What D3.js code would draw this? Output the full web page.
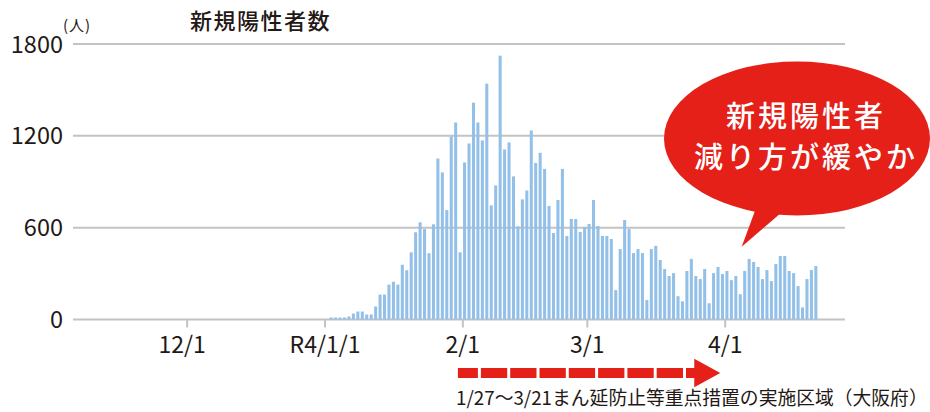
<!DOCTYPE html>
<html>
<head>
<meta charset="utf-8">
<script src="https://cdn.jsdelivr.net/npm/d3@7"></script>
<style>
  body { margin: 0; background: #fff; }
  svg { display: block; }
  text { font-family: "Noto Sans CJK JP", "Noto Sans", sans-serif; fill: #231815; }
</style>
</head>
<body>
<script>
// daily new positives, from 2022-01-02 on
const startDate = new Date(2022, 0, 2);
const cases = [
  13, 13, 13, 13, 20, 39, 52, 52, 33, 33, 85, 163, 163, 228, 247, 228, 358,
  322, 439, 570, 635, 591, 433, 622, 1052, 961, 715, 1196, 1287, 439, 1026, 1150, 1417, 1287,
  1170, 1541, 746, 876, 1724, 1111, 1157, 935, 609, 785, 843, 1235,
  1023, 1089, 984, 742, 565, 781, 984, 546, 657, 657, 572, 604, 624, 781, 611, 546, 546,
  526, 192, 460, 650, 591, 434, 460, 434, 127, 460,
  481, 389, 330, 284, 303, 152, 119, 317, 396, 284, 264, 330, 106, 303, 343, 297, 317, 257,
  284, 165, 317, 396, 376, 343, 264, 323, 251, 363, 415, 415, 317, 303, 218, 79, 264, 323, 349
];
const yTicks = [0, 600, 1200, 1800];
const monthTicks = [new Date(2021, 11, 1), new Date(2022, 0, 1), new Date(2022, 1, 1), new Date(2022, 2, 1), new Date(2022, 3, 1)];
const monthLabels = ["12/1", "R4/1/1", "2/1", "3/1", "4/1"];
const title = "新規陽性者数";
const unitLabel = "(人)";
const bubbleLines = ["新規陽性者", "減り方が緩やか"];
const caption = "1/27～3/21まん延防止等重点措置の実施区域（大阪府）";
const arrowDates = [new Date(2022, 0, 31), new Date(2022, 2, 31)];

const data = cases.map((v, i) => ({ date: d3.timeDay.offset(startDate, i), value: v }));

const W = 930, H = 412;
const plotLeft = 73, plotRight = 845;

const svg = d3.select("body").append("svg")
  .attr("width", W)
  .attr("height", H);

const x = d3.scaleTime()
  .domain([new Date(2022, 0, 1), new Date(2022, 3, 1)])
  .range([324.5, 724.7]);

const y = d3.scaleLinear()
  .domain([0, 1800])
  .range([319.5, 44]);

// grid lines
svg.append("g")
  .selectAll("line")
  .data(yTicks).enter().append("line")
    .attr("x1", plotLeft)
    .attr("x2", plotRight)
    .attr("y1", d => y(d))
    .attr("y2", d => y(d))
    .attr("stroke", "#c3c3c3")
    .attr("stroke-width", 2);

// y labels
svg.append("g")
  .selectAll("text")
  .data(yTicks).enter().append("text")
    .attr("x", 63)
    .attr("y", d => y(d) + 8.5)
    .attr("text-anchor", "end")
    .attr("font-size", 23.5)
    .text(d => d);

svg.append("text")
  .attr("x", 63)
  .attr("y", 31)
  .attr("font-size", 15)
  .attr("letter-spacing", 1)
  .text(unitLabel);

svg.append("text")
  .attr("x", 190)
  .attr("y", 29)
  .attr("font-size", 22)
  .attr("font-weight", 500)
  .attr("letter-spacing", 1.5)
  .text(title);

// x axis ticks
const xAxis = d3.axisBottom(x)
  .tickValues(monthTicks)
  .tickSize(8)
  .tickFormat((d, i) => monthLabels[i]);

const gx = svg.append("g")
  .attr("transform", "translate(0," + y(0) + ")")
  .call(xAxis);
gx.select(".domain").remove();
gx.selectAll(".tick line").attr("stroke", "#c3c3c3").attr("stroke-width", 2);
gx.selectAll(".tick text")
  .attr("font-size", 23)
  .attr("font-family", null)
  .attr("fill", "#231815")
  .attr("dy", null)
  .attr("y", 33)
  .attr("dx", (d, i) => i === 0 ? -5 : 0);

// bars
svg.append("g")
  .selectAll("rect")
  .data(data).enter().append("rect")
    .attr("x", d => x(d.date) + 0.7)
    .attr("width", d => x(d3.timeDay.offset(d.date, 1)) - x(d.date) - 1.4)
    .attr("y", d => y(d.value))
    .attr("height", d => y(0) - y(d.value))
    .attr("fill", "#93c0e8");

// speech bubble
const bubble = svg.append("g");
bubble.append("ellipse")
  .attr("cx", 797)
  .attr("cy", 138.5)
  .attr("rx", 133)
  .attr("ry", 77)
  .attr("fill", "#e42019");
bubble.append("polygon")
  .attr("points", "759,200 796,200 741.7,246.7")
  .attr("fill", "#e42019");
bubble.selectAll("text")
  .data(bubbleLines).enter().append("text")
    .attr("x", 806)
    .attr("y", (d, i) => 126.5 + i * 41.5)
    .attr("text-anchor", "middle")
    .attr("font-size", 29)
    .attr("font-weight", 500)
    .attr("letter-spacing", 3)
    .style("fill", "#fff")
    .text(d => d);

// dashed arrow for the priority measures period
const ay = 373;
const tipX = x(arrowDates[1]);
const headLen = 26;
svg.append("line")
  .attr("x1", x(arrowDates[0]))
  .attr("x2", tipX - headLen + 2)
  .attr("y1", ay)
  .attr("y2", ay)
  .attr("stroke", "#e42019")
  .attr("stroke-width", 10)
  .attr("stroke-dasharray", "26.3,3")
  .attr("stroke-dashoffset", 6.3);
svg.append("polygon")
  .attr("points", [[tipX - headLen, ay - 14.2], [tipX, ay], [tipX - headLen, ay + 14.2]].join(" "))
  .attr("fill", "#e42019");

svg.append("text")
  .attr("x", 456)
  .attr("y", 404.5)
  .attr("font-size", 18.8)
  .text(caption);
</script>
</body>
</html>
